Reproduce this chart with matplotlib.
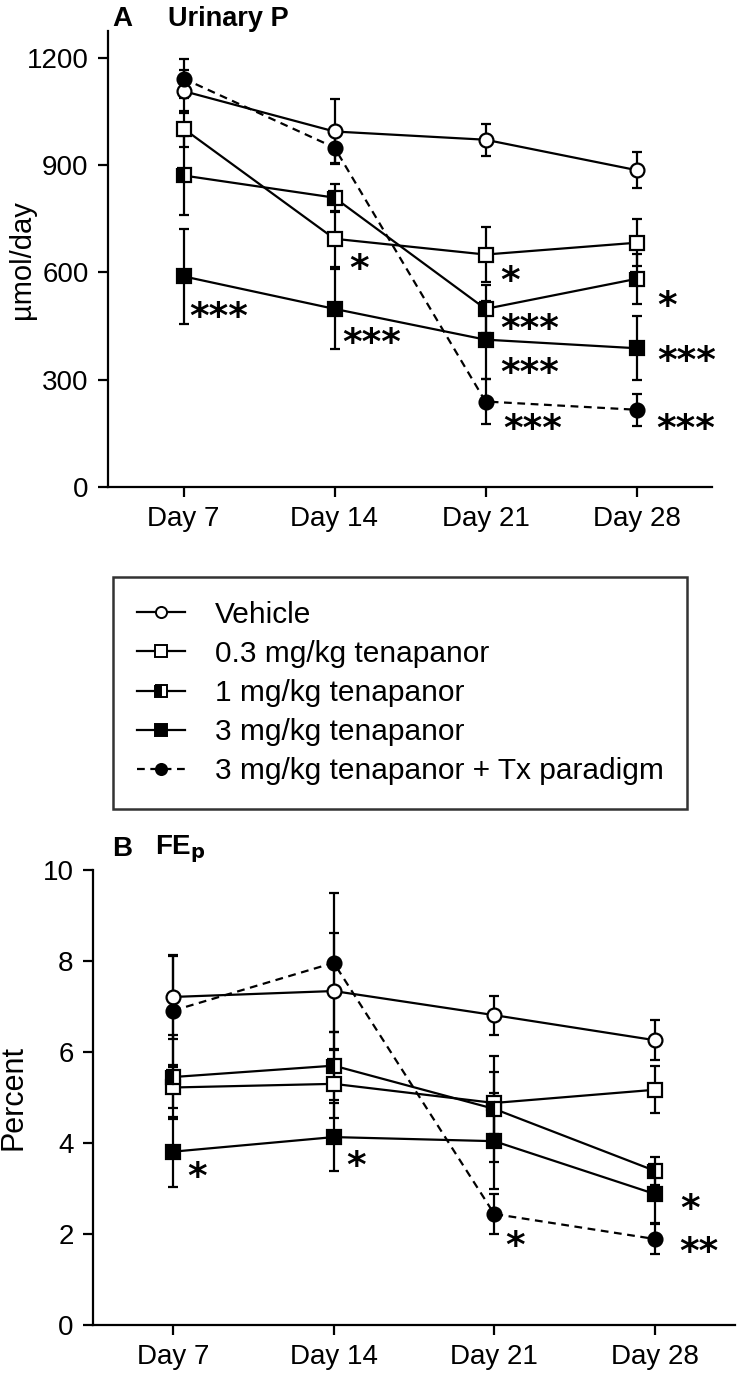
import matplotlib
matplotlib.use('Agg')
import matplotlib.pyplot as plt
from matplotlib.lines import Line2D

plt.rcParams['font.family'] = ['Liberation Sans', 'DejaVu Sans']

days = ['Day 7', 'Day 14', 'Day 21', 'Day 28']
groups = ['Vehicle', '0.3 mg/kg tenapanor', '1 mg/kg tenapanor',
          '3 mg/kg tenapanor', '3 mg/kg tenapanor + Tx paradigm']

# Panel A: Urinary P (umol/day), mean and error
up_vehicle = [1107, 994, 971, 886]
up_vehicle_err = [60, 91, 45, 50]
up_03 = [1002, 694, 650, 683]
up_03_err = [50, 78, 77, 65]
up_1 = [871, 809, 498, 582]
up_1_err = [110, 39, 67, 70]
up_3 = [589, 498, 412, 388]
up_3_err = [133, 111, 109, 90]
up_tx = [1142, 949, 239, 216]
up_tx_err = [55, 43, 63, 45]

# Panel B: FEp (percent), mean and error
fe_vehicle = [7.21, 7.34, 6.81, 6.26]
fe_vehicle_err = [0.92, 1.28, 0.43, 0.44]
fe_03 = [5.22, 5.30, 4.88, 5.17]
fe_03_err = [0.46, 0.74, 0.68, 0.52]
fe_1 = [5.45, 5.70, 4.75, 3.39]
fe_1_err = [0.92, 0.75, 1.17, 0.31]
fe_3 = [3.81, 4.13, 4.04, 2.88]
fe_3_err = [0.77, 0.74, 1.05, 0.64]
fe_tx = [6.91, 7.96, 2.44, 1.89]
fe_tx_err = [1.20, 1.53, 0.44, 0.33]

# significance marks: (day index, value, text)
sig_A_day = [0, 1, 1, 2, 2, 2, 2, 3, 3, 3]
sig_A_val = [504, 640, 434, 607, 471, 350, 192, 537, 383, 192]
sig_A_txt = ['***', '*', '***', '*', '***', '***', '***', '*', '***', '***']
sig_A_dx = [0.04, 0.10, 0.05, 0.10, 0.10, 0.10, 0.12, 0.14, 0.14, 0.13]

sig_B_day = [0, 1, 2, 3, 3]
sig_B_val = [3.50, 3.74, 1.98, 2.78, 1.83]
sig_B_txt = ['*', '*', '*', '*', '**']
sig_B_dx = [0.09, 0.08, 0.07, 0.16, 0.15]

styles = [
    dict(marker='o', mfc='white', ls='-'),
    dict(marker='s', mfc='white', ls='-'),
    dict(marker='s', mfc='black', markerfacecoloralt='white', fillstyle='left', ls='-'),
    dict(marker='s', mfc='black', ls='-'),
    dict(marker='o', mfc='black', ls=(0, (3.5, 2.5))),
]

W, H = 737, 1378
fig = plt.figure(figsize=(W / 100, H / 100), dpi=100)

def fx(px):
    return px / W

def fy(py):
    return 1 - py / H

axA = fig.add_axes([fx(108), fy(487), fx(712 - 108), (487 - 31) / H])
axB = fig.add_axes([fx(93), fy(1325), fx(735 - 93), (1325 - 870) / H])

x = list(range(len(days)))

def draw(ax, series, errs):
    for s, e, st in zip(series, errs, styles):
        ax.errorbar(x, s, yerr=e, color='black', lw=1.6, elinewidth=1.6,
                    capsize=3.5, capthick=1.6, ms=10, mew=1.6, mec='black',
                    **st)

draw(axA, [up_vehicle, up_03, up_1, up_3, up_tx],
     [up_vehicle_err, up_03_err, up_1_err, up_3_err, up_tx_err])
draw(axB, [fe_vehicle, fe_03, fe_1, fe_3, fe_tx],
     [fe_vehicle_err, fe_03_err, fe_1_err, fe_3_err, fe_tx_err])

for ax in (axA, axB):
    ax.set_xlim(-0.5, 3.5)
    ax.set_xticks(x)
    ax.set_xticklabels(days)
    for sp in ('top', 'right'):
        ax.spines[sp].set_visible(False)
    for sp in ('left', 'bottom'):
        ax.spines[sp].set_linewidth(1.6)
    ax.tick_params(axis='both', direction='out', length=7, width=1.6,
                   labelsize=20, pad=7)

axA.set_ylim(0, 1275)
axA.set_yticks([0, 300, 600, 900, 1200])
axB.set_ylim(0, 10)
axB.set_yticks([0, 2, 4, 6, 8, 10])

star_fs = 27

def stars(ax, days_i, vals, txts, dxs):
    for d, v, t, dx in zip(days_i, vals, txts, dxs):
        ax.annotate(t, xy=(d + dx, v), xytext=(0, -0.58 * star_fs),
                    textcoords='offset points', ha='left', va='baseline',
                    fontsize=star_fs, fontweight='bold', family='DejaVu Sans')

stars(axA, sig_A_day, sig_A_val, sig_A_txt, sig_A_dx)
stars(axB, sig_B_day, sig_B_val, sig_B_txt, sig_B_dx)

# titles
fig.text(fx(112), fy(19), 'A', fontsize=20, fontweight='bold', va='center', ha='left')
fig.text(fx(168), fy(19), 'Urinary P', fontsize=19.5, fontweight='bold', va='center', ha='left')
fig.text(fx(112), fy(849), 'B', fontsize=20, fontweight='bold', va='center', ha='left')
fig.text(fx(155), fy(849), r'FE$_\mathbf{p}$', fontsize=20, fontweight='bold', va='center', ha='left')

# y labels
fig.text(fx(22), fy(260), 'µmol/day', rotation=90, fontsize=21, ha='center', va='center')
fig.text(fx(14), fy(1097), 'Percent', rotation=90, fontsize=22, ha='center', va='center')

# legend
handles = []
for st in styles:
    kw = dict(st)
    ls = kw.pop('ls')
    handles.append(Line2D([], [], color='black', lw=1.6, ls=ls, ms=8, mew=1.4,
                          mec='black', **kw))
leg = fig.legend(handles, groups, loc='upper left',
                 bbox_to_anchor=(fx(113), fy(577)), bbox_transform=fig.transFigure,
                 fontsize=21.5, frameon=True, fancybox=False, borderaxespad=0,
                 handlelength=1.6, handletextpad=1.0, labelspacing=0.37,
                 borderpad=0.8, numpoints=1)
leg.get_frame().set_edgecolor('black')
leg.get_frame().set_linewidth(1.8)

fig.savefig('out.png', dpi=100)
